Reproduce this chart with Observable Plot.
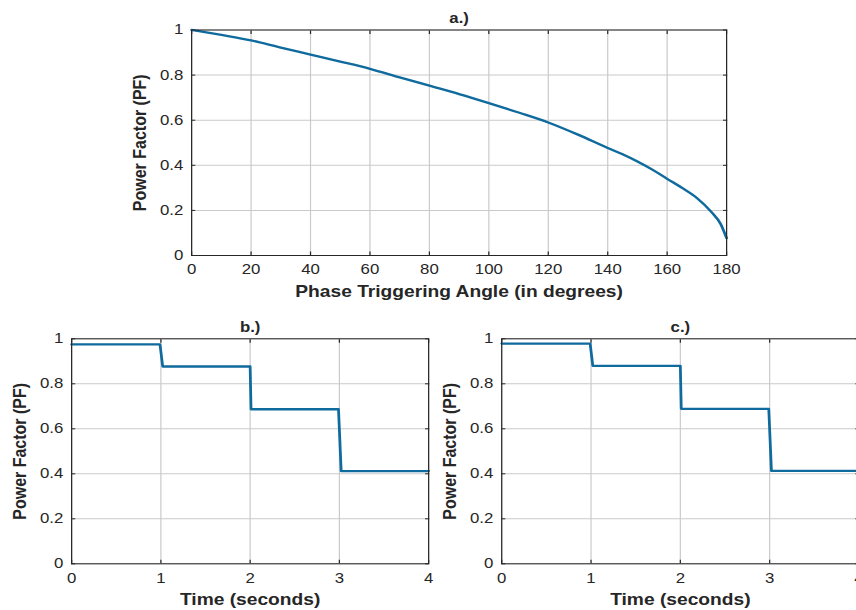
<!DOCTYPE html>
<html><head><meta charset="utf-8">
<script src="https://cdn.jsdelivr.net/npm/d3@7"></script>
<script src="https://cdn.jsdelivr.net/npm/@observablehq/plot@0.6"></script>
<style>
html,body{margin:0;padding:0;background:#fff;overflow:hidden;width:856px;height:610px;}
#stage{position:absolute;left:0;top:0;width:713.33px;height:610px;transform:scaleX(1.2);transform-origin:0 0;}
.panel{position:absolute;}
.panel svg{overflow:visible;max-width:none;}
</style></head><body><div id="stage"></div>
<script>
// Panel a: power factor vs phase triggering angle
const angleDeg = [0,10,20,30,40,50,60,70,80,90,100,110,120,130,140,145,150,155,160,165,170,175,178,180];
const pfAngle  = [1.0,0.978,0.954,0.922,0.891,0.86,0.828,0.79,0.753,0.716,0.676,0.634,0.590,0.536,0.477,0.449,0.417,0.381,0.340,0.30,0.255,0.191,0.14,0.077];
// Panel b: power factor vs time
const timeB = [0,0.99,1.02,2.0,2.01,2.99,3.02,4];
const pfB   = [0.975,0.975,0.877,0.877,0.687,0.687,0.412,0.412];
// Panel c: power factor vs time
const timeC = [0,0.99,1.02,2.0,2.01,2.99,3.02,4];
const pfC   = [0.979,0.979,0.880,0.880,0.689,0.689,0.413,0.413];
// Tick values
const angleTicks = [0,20,40,60,80,100,120,140,160,180];
const timeTicks = [0,1,2,3,4];
const pfTicks = [0,0.2,0.4,0.6,0.8,1];
// Texts
const titles = ["a.)","b.)","c.)"];
const angleLabel = "Phase Triggering Angle (in degrees)";
const timeLabel = "Time (seconds)";
const pfLabel = "Power Factor (PF)";

const INK = "#262626", GRID = "#cacaca", LINE = "#0f6a9e";
const FONT = "'Liberation Sans', Arial, Helvetica, sans-serif";
const fmt = d3.format("~g");

function panel({xs, ys, xDomain, xTicks, title, xLabel, yLabel, width, height, m, curve}) {
  const data = xs.map((x, i) => ({x, y: ys[i]}));
  return Plot.plot({
    width, height,
    marginLeft: m[0], marginRight: m[1], marginTop: m[2], marginBottom: m[3],
    style: {fontFamily: FONT, fontSize: "14px", color: INK, background: "transparent", overflow: "visible"},
    x: {domain: xDomain, axis: null},
    y: {domain: [0, 1], axis: null},
    marks: [
      Plot.gridX(xTicks, {stroke: GRID, strokeOpacity: 1, strokeWidth: 1}),
      Plot.gridY(pfTicks, {stroke: GRID, strokeOpacity: 1, strokeWidth: 1}),
      Plot.axisX(xTicks, {anchor: "bottom", tickSize: 0, tickPadding: 9, tickFormat: fmt, label: null, fill: INK}),
      Plot.axisY(pfTicks, {anchor: "left", tickSize: 0, tickPadding: 7, tickFormat: fmt, label: null, fill: INK}),
      Plot.axisX(xTicks, {anchor: "top", tickSize: -3.5, tickFormat: () => "", label: null, stroke: INK}),
      Plot.axisX(xTicks, {anchor: "bottom", tickSize: -3.5, tickFormat: () => "", label: null, stroke: INK}),
      Plot.axisY(pfTicks, {anchor: "right", tickSize: -3.5, tickFormat: () => "", label: null, stroke: INK}),
      Plot.axisY(pfTicks, {anchor: "left", tickSize: -3.5, tickFormat: () => "", label: null, stroke: INK}),
      Plot.line(data, {x: "x", y: "y", stroke: LINE, strokeWidth: 2.3, curve}),
      Plot.frame({stroke: INK, strokeWidth: 1}),
      Plot.text([title], {frameAnchor: "top", lineAnchor: "middle", textAnchor: "middle", dy: -11, fontWeight: "bold", fontSize: 14, fill: INK}),
      Plot.text([xLabel], {frameAnchor: "bottom", lineAnchor: "middle", textAnchor: "middle", dy: 36, fontWeight: "bold", fontSize: 16, fill: INK}),
      Plot.text([yLabel], {frameAnchor: "left", lineAnchor: "middle", textAnchor: "middle", dx: -43, rotate: -90, fontWeight: "bold", fontSize: 16, fill: INK})
    ]
  });
}

function place(svg, left, top, width) {
  const d = document.createElement("div");
  d.className = "panel";
  d.style.left = left + "px";
  d.style.top = top + "px";
  d.style.width = width + "px";
  d.appendChild(svg);
  document.getElementById("stage").appendChild(d);
}

place(panel({xs: angleDeg, ys: pfAngle, xDomain: [0, 180], xTicks: angleTicks, title: titles[0],
  xLabel: angleLabel, yLabel: pfLabel, width: 530, height: 305, m: [59.2, 25, 29.5, 50], curve: "monotone-x"}), 100, 0, 530);
place(panel({xs: timeB, ys: pfB, xDomain: [0, 4], xTicks: timeTicks, title: titles[1],
  xLabel: timeLabel, yLabel: pfLabel, width: 370, height: 300, m: [59.2, 13.3, 28.3, 46.7], curve: "linear"}), 0, 310, 370);
place(panel({xs: timeC, ys: pfC, xDomain: [0, 4], xTicks: timeTicks, title: titles[2],
  xLabel: timeLabel, yLabel: pfLabel, width: 370, height: 300, m: [59.6, 12.7, 28.3, 46.7], curve: "linear"}), 358.3, 310, 370);
</script></body></html>
